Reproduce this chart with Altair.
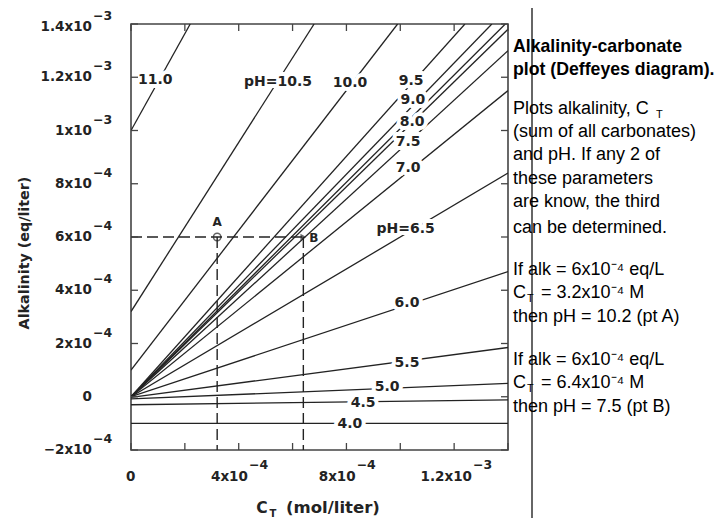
import altair as alt
import pandas as pd

# ---------------- data ----------------
ph = ["4.0", "4.5", "5.0", "5.5", "6.0", "6.5", "7.0", "7.5", "8.0", "8.5",
      "9.0", "9.5", "10.0", "10.5", "11.0"]
ct_start = [0, 0, 0, 0, 0, 0, 0, 0, 0, 0, 0, 0, 0, 0, 0]
alk_start = [-1.0e-4, -3.0e-5, -8e-6, -2e-6, 0, 0, 0, 0, 0, 0, 0, 0, 1.0e-4, 3.2e-4, 1.0e-3]
ct_end = [1.4e-3, 1.4e-3, 1.4e-3, 1.4e-3, 1.4e-3, 1.4e-3, 1.4e-3, 1.4e-3, 1.4e-3,
          1.39e-3, 1.34e-3, 1.24e-3, 9.9e-4, 6.8e-4, 2.2e-4]
alk_end = [-1.0e-4, -1.2e-5, 5.0e-5, 1.85e-4, 4.7e-4, 8.4e-4, 1.15e-3, 1.30e-3, 1.38e-3,
           1.4e-3, 1.4e-3, 1.4e-3, 1.4e-3, 1.4e-3, 1.4e-3]

label_text = ["4.0", "4.5", "5.0", "5.5", "6.0", "pH=6.5", "7.0", "7.5", "8.0", "9.0",
              "9.5", "10.0", "pH=10.5", "11.0"]
label_ct = [8.13e-4, 8.62e-4, 9.51e-4, 1.025e-3, 1.025e-3, 1.02e-3, 1.029e-3, 1.029e-3,
            1.044e-3, 1.047e-3, 1.04e-3, 8.13e-4, 5.46e-4, 0.9e-4]
label_alk = [-1.02e-4, -2.3e-5, 3.7e-5, 1.27e-4, 3.52e-4, 6.3e-4, 8.6e-4, 9.57e-4,
             1.032e-3, 1.115e-3, 1.186e-3, 1.18e-3, 1.182e-3, 1.19e-3]

pt_name = ["A", "B"]
pt_ct = [3.2e-4, 6.4e-4]
pt_alk = [6.0e-4, 6.0e-4]
axis_min_alk = -2.0e-4

x_tick_vals = [0, 2e-4, 4e-4, 6e-4, 8e-4, 1.0e-3, 1.2e-3, 1.4e-3]
y_tick_vals = [-2e-4, 0, 2e-4, 4e-4, 6e-4, 8e-4, 1.0e-3, 1.2e-3, 1.4e-3]
x_lab_vals = [0, 4e-4, 8e-4, 1.2e-3]
x_lab_base = ["0", "4x10", "8x10", "1.2x10"]
x_lab_exp = ["", "\u22124", "\u22124", "\u22123"]
y_lab_vals = [-2e-4, 0, 2e-4, 4e-4, 6e-4, 8e-4, 1.0e-3, 1.2e-3, 1.4e-3]
y_lab_base = ["\u22122x10", "0", "2x10", "4x10", "6x10", "8x10", "1x10", "1.2x10", "1.4x10"]
y_lab_exp = ["\u22124", "", "\u22124", "\u22124", "\u22124", "\u22124", "\u22123", "\u22123", "\u22123"]

# ---------------- layout ----------------
W, H = 377, 426
PAD_L, PAD_T, PAD_R, PAD_B = 123, 16, 209, 68
INK = "#232323"
FONT = "DejaVu Sans"
PFONT = "Liberation Sans"

xs = alt.Scale(domain=[0, 0.0014], nice=False, zero=False)
ys = alt.Scale(domain=[-0.0002, 0.0014], nice=False, zero=False)


def X(f):
    return alt.X(f, type="quantitative", scale=xs, axis=None)


def Y(f):
    return alt.Y(f, type="quantitative", scale=ys, axis=None)


lines_df = pd.DataFrame({"ph": ph, "c0": ct_start, "a0": alk_start, "c1": ct_end, "a1": alk_end})
lab_df = pd.DataFrame({"t": label_text, "c": label_ct, "a": label_alk})
pts_df = pd.DataFrame({"n": pt_name, "c": pt_ct, "a": pt_alk})
dash_df = pd.DataFrame({
    "c0": [0, pt_ct[0], pt_ct[1]],
    "a0": [pt_alk[0], pt_alk[0], pt_alk[1]],
    "c1": [pt_ct[1], pt_ct[0], pt_ct[1]],
    "a1": [pt_alk[1], axis_min_alk, axis_min_alk],
})
xt_df = pd.DataFrame({"v": x_tick_vals})
yt_df = pd.DataFrame({"v": y_tick_vals})
xl_df = pd.DataFrame({"v": x_lab_vals, "base": x_lab_base, "exp": x_lab_exp})
yl_df = pd.DataFrame({"v": y_lab_vals, "base": y_lab_base, "exp": y_lab_exp})

ph_lines = alt.Chart(lines_df).mark_rule(color=INK, strokeWidth=1.3, clip=True).encode(
    x=X("c0"), y=Y("a0"), x2="c1", y2="a1")

halo = alt.Chart(lab_df).mark_text(font=FONT, fontSize=14, fontWeight="bold", fill="white",
                                   stroke="white", strokeWidth=8, strokeJoin="round").encode(
    x=X("c"), y=Y("a"), text="t:N")
labels = alt.Chart(lab_df).mark_text(font=FONT, fontSize=14, fontWeight="bold", color=INK).encode(
    x=X("c"), y=Y("a"), text="t:N")

dashes = alt.Chart(dash_df).mark_rule(color=INK, strokeWidth=1.4, strokeDash=[11, 5]).encode(
    x=X("c0"), y=Y("a0"), x2="c1", y2="a1")

pt_a = alt.Chart(pts_df).transform_filter("datum.n == 'A'").mark_point(
    shape="circle", size=55, filled=False, color=INK, strokeWidth=1.5).encode(x=X("c"), y=Y("a"))
pt_b = alt.Chart(pts_df).transform_filter("datum.n == 'B'").mark_point(
    shape="triangle-right", size=45, filled=True, color=INK).encode(x=X("c"), y=Y("a"))
lab_a = alt.Chart(pts_df).transform_filter("datum.n == 'A'").mark_text(
    font=FONT, fontSize=12, fontWeight="bold", color=INK, dy=-15).encode(x=X("c"), y=Y("a"), text="n:N")
lab_b = alt.Chart(pts_df).transform_filter("datum.n == 'B'").mark_text(
    font=FONT, fontSize=12, fontWeight="bold", color=INK, align="left", dx=6, dy=1).encode(
    x=X("c"), y=Y("a"), text="n:N")

tick_style = dict(color="#444", strokeWidth=1.3)
t_left = alt.Chart(yt_df).mark_rule(**tick_style).encode(y=Y("v"), x=alt.value(0), x2=alt.value(7))
t_right = alt.Chart(yt_df).mark_rule(**tick_style).encode(y=Y("v"), x=alt.value(W - 7), x2=alt.value(W))
t_top = alt.Chart(xt_df).mark_rule(**tick_style).encode(x=X("v"), y=alt.value(0), y2=alt.value(7))
t_bot = alt.Chart(xt_df).mark_rule(**tick_style).encode(x=X("v"), y=alt.value(H - 7), y2=alt.value(H))

yl_calc = alt.Chart(yl_df).transform_calculate(yv="min(datum.v, 0.001389)")
ylab_base = yl_calc.mark_text(font=FONT, fontSize=13.5, fontWeight="bold", color=INK,
                              align="right", baseline="middle").encode(
    y=Y("yv:Q"), x=alt.value(-39), text="base:N")
ylab_exp = yl_calc.mark_text(font=FONT, fontSize=12.5, fontWeight="bold", color=INK,
                             align="left", baseline="middle", dy=-11).encode(
    y=Y("yv:Q"), x=alt.value(-38), text="exp:N")

px2data = 0.0014 / W
xl_calc = alt.Chart(xl_df).transform_calculate(
    xb=f"datum.v + ((length(datum.base) * 8.6 - (datum.exp == '' ? 0 : 16)) / 2) * {px2data}")
xlab_base = xl_calc.mark_text(font=FONT, fontSize=13.5, fontWeight="bold", color=INK,
                              align="right", baseline="middle").encode(
    x=X("xb:Q"), y=alt.value(453), text="base:N")
xlab_exp = xl_calc.mark_text(font=FONT, fontSize=12.5, fontWeight="bold", color=INK,
                             align="left", baseline="middle", dx=1).encode(
    x=X("xb:Q"), y=alt.value(441), text="exp:N")


def note(s, x, y, size=18.0, weight="normal", align="left", font=PFONT, angle=0, color="black"):
    return alt.Chart(pd.DataFrame({"t": [s]})).mark_text(
        font=font, fontSize=size, fontWeight=weight, align=align, baseline="middle",
        angle=angle, color=color).encode(x=alt.value(x), y=alt.value(y), text="t:N")


titles = [
    note("Alkalinity (eq/liter)", -106, 229, size=14.3, weight="bold", align="center",
         font=FONT, angle=270, color=INK),
    note("C", 131, 484, size=15.5, weight="bold", align="center", font=FONT, color=INK),
    note("T", 142, 490, size=10, weight="bold", align="center", font=FONT, color=INK),
    note("(mol/liter)", 155, 484, size=16.5, weight="bold", align="left", font=FONT, color=INK),
]

sep = alt.Chart(pd.DataFrame({"k": [0]})).mark_rule(color="#333", strokeWidth=1.5).encode(
    x=alt.value(401), y=alt.value(-16), y2=alt.value(H + PAD_B))

PX = 382
panel = [
    note("Alkalinity-carbonate", PX, 47 - 24, size=17.7, weight="bold"),
    note("plot (Deffeyes diagram).", PX, 70 - 24, size=17.7, weight="bold"),
    note("Plots alkalinity, C", PX, 109 - 24),
    note("T", PX + 143, 115 - 24, size=11),
    note("(sum of all carbonates)", PX, 132 - 24),
    note("and pH. If any 2 of", PX, 155 - 24),
    note("these parameters", PX, 179 - 24),
    note("are know, the third", PX, 202 - 24),
    note("can be determined.", PX, 228 - 24),
    note("If alk = 6x10\u207b\u2074 eq/L", PX, 270 - 24),
    note("C", PX, 293 - 24),
    note("T", PX + 14, 299 - 24, size=11),
    note("= 3.2x10\u207b\u2074 M", PX + 28, 293 - 24),
    note("then pH = 10.2 (pt A)", PX, 317 - 24),
    note("If alk = 6x10\u207b\u2074 eq/L", PX, 360 - 24),
    note("C", PX, 383 - 24),
    note("T", PX + 14, 389 - 24, size=11),
    note("= 6.4x10\u207b\u2074 M", PX + 28, 383 - 24),
    note("then pH = 7.5 (pt B)", PX, 407 - 24),
]

chart = alt.layer(
    ph_lines, dashes, halo, labels, pt_a, pt_b, lab_a, lab_b,
    t_left, t_right, t_top, t_bot, ylab_base, ylab_exp, xlab_base, xlab_exp,
    *titles, sep, *panel,
).properties(
    width=W, height=H,
    autosize=alt.AutoSizeParams(type="none"),
    padding={"left": PAD_L, "top": PAD_T, "right": PAD_R, "bottom": PAD_B},
    background="white",
).configure_view(stroke="#444", strokeWidth=1.6)

chart.save("out.html", embed_options={"renderer": "svg", "actions": False})
